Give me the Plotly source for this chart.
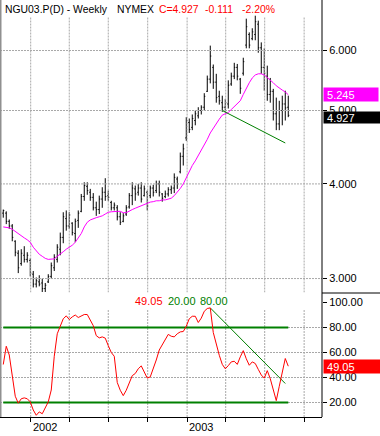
import math
import pandas as pd
import plotly.graph_objects as go

# ---------------- data ----------------
dates = pd.date_range("2001-10-29", periods=96, freq="7D")

opens = [3.66, 3.66, 3.57, 3.52, 3.36, 3.24, 3.14, 3.22, 3.18, 3.17,
         3.04, 2.95, 2.97, 2.96, 2.91, 2.97, 3.02, 3.10, 3.18, 3.28,
         3.40, 3.60, 3.52, 3.55, 3.44, 3.58, 3.68, 3.85, 3.97, 3.90,
         3.84, 3.72, 3.70, 3.82, 3.90, 3.86, 3.78, 3.72, 3.72, 3.62,
         3.57, 3.65, 3.73, 3.86, 3.94, 3.90, 3.95, 3.86, 3.90, 3.86,
         3.95, 3.92, 4.00, 3.88, 3.85, 3.88, 3.93, 3.95, 4.06, 4.15,
         4.35, 4.60, 4.82, 4.75, 4.85, 4.92, 5.00, 5.05, 5.30, 5.50,
         5.70, 5.45, 5.22, 5.12, 5.05, 5.10, 5.42, 5.55, 5.70, 5.50,
         5.60, 6.10, 6.30, 6.22, 6.30, 6.50, 6.05, 5.70, 5.55, 5.25,
         5.30, 4.95, 4.80, 5.00, 5.10, 5.05]

highs = [3.70, 3.68, 3.59, 3.54, 3.37, 3.27, 3.28, 3.31, 3.25, 3.19,
         3.07, 3.01, 3.03, 3.00, 2.96, 3.04, 3.15, 3.23, 3.33, 3.45,
         3.67, 3.69, 3.67, 3.56, 3.60, 3.69, 3.88, 4.02, 4.02, 3.94,
         3.89, 3.79, 3.86, 3.96, 4.07, 3.92, 3.80, 3.78, 3.75, 3.67,
         3.66, 3.75, 3.89, 4.02, 3.98, 4.00, 4.02, 3.98, 3.92, 3.98,
         3.99, 4.04, 4.04, 3.89, 3.92, 3.96, 3.98, 4.13, 4.09, 4.40,
         4.52, 4.90, 4.88, 4.94, 5.00, 5.05, 5.08, 5.27, 5.56, 6.09,
         5.75, 5.59, 5.31, 5.23, 5.18, 5.48, 5.61, 5.78, 5.76, 5.52,
         5.87, 6.61, 6.34, 6.42, 6.67, 6.57, 6.15, 6.04, 5.73, 5.52,
         5.34, 5.20, 5.15, 5.23, 5.31, 5.23]

lows = [3.61, 3.54, 3.49, 3.36, 3.21, 3.05, 3.12, 3.15, 3.15, 3.02,
        2.92, 2.92, 2.93, 2.88, 2.88, 2.96, 3.00, 3.07, 3.15, 3.22,
        3.34, 3.47, 3.49, 3.42, 3.35, 3.50, 3.67, 3.80, 3.87, 3.80,
        3.69, 3.63, 3.65, 3.72, 3.80, 3.80, 3.69, 3.69, 3.58, 3.53,
        3.56, 3.63, 3.71, 3.75, 3.80, 3.86, 3.78, 3.85, 3.69, 3.83,
        3.85, 3.89, 3.85, 3.79, 3.83, 3.85, 3.88, 3.89, 3.94, 4.13,
        4.23, 4.56, 4.67, 4.71, 4.78, 4.88, 4.94, 5.00, 5.29, 5.43,
        5.34, 5.12, 5.09, 4.98, 4.97, 5.03, 5.39, 5.50, 5.48, 5.26,
        5.56, 6.04, 6.04, 6.19, 6.19, 5.96, 5.59, 5.31, 5.15, 5.12,
        4.85, 4.71, 4.71, 4.78, 4.85, 4.90]

closes = [3.69, 3.57, 3.52, 3.40, 3.25, 3.10, 3.24, 3.18, 3.22, 3.05,
          2.95, 2.98, 2.95, 2.91, 2.94, 3.02, 3.12, 3.20, 3.30, 3.40,
          3.62, 3.52, 3.64, 3.45, 3.57, 3.66, 3.85, 3.98, 3.92, 3.84,
          3.72, 3.70, 3.82, 3.90, 3.85, 3.84, 3.72, 3.75, 3.62, 3.56,
          3.63, 3.72, 3.86, 3.95, 3.88, 3.95, 3.82, 3.94, 3.74, 3.95,
          3.90, 4.00, 3.90, 3.83, 3.88, 3.93, 3.95, 4.08, 4.00, 4.35,
          4.45, 4.85, 4.72, 4.88, 4.95, 5.00, 5.05, 5.22, 5.50, 5.90,
          5.45, 5.20, 5.15, 5.05, 5.12, 5.40, 5.55, 5.70, 5.55, 5.35,
          5.80, 6.45, 6.10, 6.35, 6.55, 6.05, 5.70, 5.60, 5.25, 5.30,
          4.95, 4.80, 5.00, 5.10, 5.04, 4.927]

moving_avg = [3.51, 3.505, 3.50, 3.485, 3.46, 3.435, 3.415, 3.395, 3.375, 3.35,
              3.30, 3.265, 3.23, 3.21, 3.19, 3.18, 3.18, 3.185, 3.21, 3.23,
              3.255, 3.28, 3.30, 3.32, 3.35, 3.39, 3.44, 3.51, 3.56, 3.585,
              3.60, 3.61, 3.62, 3.63, 3.65, 3.67, 3.675, 3.68, 3.68, 3.68,
              3.665, 3.665, 3.685, 3.70, 3.715, 3.73, 3.745, 3.76, 3.77, 3.785,
              3.79, 3.80, 3.80, 3.81, 3.81, 3.82, 3.83, 3.86, 3.90, 3.945,
              4.00, 4.08, 4.16, 4.23, 4.29, 4.36, 4.43, 4.50, 4.58, 4.67,
              4.74, 4.81, 4.87, 4.93, 4.955, 4.97, 5.015, 5.06, 5.11, 5.15,
              5.25, 5.35, 5.44, 5.52, 5.57, 5.59, 5.59, 5.57, 5.53, 5.49,
              5.44, 5.39, 5.35, 5.32, 5.29, 5.245]

oscillator = [50.4, 65, 58, 43, 25, 19.5, 23, 23.7, 23, 20.5,
              14, 9.8, 12.5, 11, 15.2, 20.5, 30, 57, 75, 81.8,
              87, 89.3, 86.4, 88.5, 90, 88, 89, 90.4, 90.4, 85.8,
              81.5, 73.5, 71.7, 72.5, 71.5, 65.5, 60, 57, 36, 29.8,
              25.5, 29.8, 35, 41.5, 43.2, 47, 49.3, 45, 39.5, 40.5,
              46.5, 54, 62, 66, 70, 74.5, 73, 72.5, 75, 76.5,
              76.8, 81, 87, 89, 89, 84, 87.5, 93, 95.2, 95.7,
              76, 66.5, 57.8, 50.5, 47, 49.5, 52.5, 53, 50.5, 56.5,
              61.5, 55, 49.8, 52.5, 51.2, 46.5, 42, 39.5, 45.5, 39,
              29.5, 21.5, 33, 44.5, 55.2, 49.05]

price_trend_x = [dates[73], dates[94]]
price_trend_y = [5.00, 4.53]
osc_trend_x = [dates[69], dates[94]]
osc_trend_y = [95.7, 35.2]
osc_levels = [80, 20]

price_ticks = [3, 4, 5, 6]
osc_ticks = [20, 40, 60, 80, 100]
osc_grid = [20, 40, 60, 80]
quarter_ticks = ["2002-01-01", "2002-04-01", "2002-07-01", "2002-10-01",
                 "2003-01-01", "2003-04-01", "2003-07-01", "2003-10-01"]
year_labels = ["2002", "2003"]
year_dates = ["2002-01-01", "2003-01-01"]

last_close = 4.927
last_ma = 5.245
last_osc = 49.05

# ---------------- figure ----------------
W, H = 380, 436
FONT = "Liberation Sans, Arial, sans-serif"
GREEN = "#008000"
GRID = "#A8A8A8"
xrange = ["2001-10-21 09:36", "2003-11-11 16:48"]

p_top = 5 * math.exp((110 - 13) / 329)
p_bot = 5 * math.exp((110 - 292) / 329)
p_grid_top = 5 * math.exp((110 - 17) / 329)
osc_range = [8.4, 107.6]
osc_vgrid_top = 94.0


def px_x(p):
    return p / W


def px_y(p):
    return 1 - p / H


fig = go.Figure()
grid_style = dict(color=GRID, width=1, dash="2px,1px")

# grid (drawn first so it sits under the data)
for v in price_ticks:
    fig.add_trace(go.Scatter(x=xrange, y=[v, v], mode="lines", hoverinfo="skip",
                             line=grid_style, xaxis="x", yaxis="y"))
for v in osc_grid:
    fig.add_trace(go.Scatter(x=xrange, y=[v, v], mode="lines", hoverinfo="skip",
                             line=grid_style, xaxis="x2", yaxis="y2"))
for q in quarter_ticks:
    fig.add_trace(go.Scatter(x=[q, q], y=[p_bot, p_grid_top], mode="lines",
                             hoverinfo="skip", line=grid_style,
                             xaxis="x", yaxis="y"))
    fig.add_trace(go.Scatter(x=[q, q], y=[osc_range[0], osc_vgrid_top], mode="lines",
                             hoverinfo="skip", line=grid_style,
                             xaxis="x2", yaxis="y2"))

fig.add_trace(go.Ohlc(
    x=dates, open=opens, high=highs, low=lows, close=closes,
    increasing=dict(line=dict(color="black", width=1)),
    decreasing=dict(line=dict(color="black", width=1)),
    tickwidth=0.34, xaxis="x", yaxis="y", hoverinfo="skip"))
fig.add_trace(go.Scatter(x=dates, y=moving_avg, mode="lines",
                         line=dict(color="#FF00FF", width=1),
                         xaxis="x", yaxis="y"))
fig.add_trace(go.Scatter(x=price_trend_x, y=price_trend_y, mode="lines",
                         line=dict(color=GREEN, width=1),
                         xaxis="x", yaxis="y"))

for lv in osc_levels:
    fig.add_trace(go.Scatter(x=[dates[0], dates[-1]], y=[lv, lv], mode="lines",
                             line=dict(color=GREEN, width=2),
                             xaxis="x2", yaxis="y2"))
fig.add_trace(go.Scatter(x=osc_trend_x, y=osc_trend_y, mode="lines",
                         line=dict(color=GREEN, width=1),
                         xaxis="x2", yaxis="y2"))
fig.add_trace(go.Scatter(x=dates, y=oscillator, mode="lines",
                         line=dict(color="#FF0000", width=1),
                         xaxis="x2", yaxis="y2"))

xdom = [0, px_x(322)]

common_x = dict(domain=xdom, range=xrange, type="date", tickmode="array",
                tickvals=quarter_ticks, showticklabels=False, showgrid=False,
                zeroline=False, rangeslider=dict(visible=False), fixedrange=True)

fig.update_layout(
    width=W, height=H, autosize=False,
    margin=dict(l=0, r=0, t=0, b=0),
    paper_bgcolor="white", plot_bgcolor="white",
    showlegend=False,
    font=dict(family=FONT, size=11, color="black"),
    xaxis=dict(anchor="y", ticks="", showline=False, **common_x),
    xaxis2=dict(anchor="y2", matches="x", ticks="outside", ticklen=4,
                tickcolor="black", showline=True, linecolor="black",
                linewidth=1, **common_x),
    yaxis=dict(domain=[px_y(292.5), px_y(13.5)], type="log",
               range=[math.log10(p_bot), math.log10(p_top)],
               side="right", anchor="x", tickmode="array",
               tickvals=price_ticks, tickformat=".3f",
               ticks="outside", ticklen=4, tickcolor="black",
               showgrid=False, zeroline=False, showline=False, fixedrange=True,
               tickfont=dict(size=11, color="black")),
    yaxis2=dict(domain=[px_y(417), px_y(293)], range=osc_range,
                side="right", anchor="x2", tickmode="array",
                tickvals=osc_ticks, tickformat=".2f",
                ticks="outside", ticklen=4, tickcolor="black",
                showgrid=False, zeroline=False, showline=False, fixedrange=True,
                tickfont=dict(size=11, color="black")),
)

shapes = [
    dict(type="line", xref="paper", yref="paper", x0=px_x(322), x1=px_x(322),
         y0=px_y(0), y1=px_y(417), line=dict(color="black", width=1)),
    dict(type="line", xref="paper", yref="paper", x0=px_x(322), x1=1,
         y0=px_y(293), y1=px_y(293), line=dict(color="black", width=1)),
    dict(type="line", xref="paper", yref="paper", x0=px_x(0.5), x1=px_x(0.5),
         y0=px_y(0), y1=px_y(417), line=dict(color="#909090", width=2)),
]
fig.update_layout(shapes=shapes)

ann = []
title_parts = [("NGU03.P(D) - Weekly", 3, "black"), ("NYMEX", 115, "black"),
               (f"C={last_close:.3f}", 157, "#FF0000"), ("-0.111", 203, "#FF0000"),
               ("-2.20%", 240, "#FF0000")]
for txt, xp, col in title_parts:
    ann.append(dict(text=txt, xref="paper", yref="paper", x=px_x(xp), y=px_y(10),
                    xanchor="left", yanchor="middle", showarrow=False,
                    font=dict(size=10.4, color=col, family=FONT)))
osc_head = [(f"{last_osc:.2f}", 133, "#FF0000"), ("20.00", 166, GREEN), ("80.00", 198, GREEN)]
for txt, xp, col in osc_head:
    ann.append(dict(text=txt, xref="paper", yref="paper", x=px_x(xp), y=px_y(301),
                    xanchor="left", yanchor="middle", showarrow=False,
                    font=dict(size=11, color=col, family=FONT)))
for lab, d in zip(year_labels, year_dates):
    ann.append(dict(text=lab, xref="x2", yref="paper", x=d, y=px_y(427),
                    xanchor="left", yanchor="middle", showarrow=False,
                    font=dict(size=11, color="black", family=FONT)))
ann.append(dict(text=f"&nbsp;{last_ma:.3f}", xref="paper", yref="y",
                x=px_x(322.5), y=math.log10(last_ma), xanchor="left", yanchor="middle",
                showarrow=False, bgcolor="#FF00FF", width=54, height=13, align="left",
                borderpad=0, font=dict(size=11, color="white", family=FONT)))
ann.append(dict(text=f"&nbsp;{last_close:.3f}", xref="paper", yref="y",
                x=px_x(322.5), y=math.log10(last_close), yshift=-2,
                xanchor="left", yanchor="middle",
                showarrow=False, bgcolor="black", width=58, height=11, align="left",
                borderpad=0, font=dict(size=11, color="white", family=FONT)))
ann.append(dict(text=f"&nbsp;{last_osc:.2f}", xref="paper", yref="y2",
                x=px_x(322.5), y=last_osc, xanchor="left", yanchor="middle",
                showarrow=False, bgcolor="#FF0000", width=58, height=13, align="left",
                borderpad=0, font=dict(size=11, color="white", family=FONT)))
fig.update_layout(annotations=ann)

fig.write_html("out.html", config={"displayModeBar": False},
               post_script="document.body.style.margin='0px';"
                           "document.body.style.overflow='hidden';")
